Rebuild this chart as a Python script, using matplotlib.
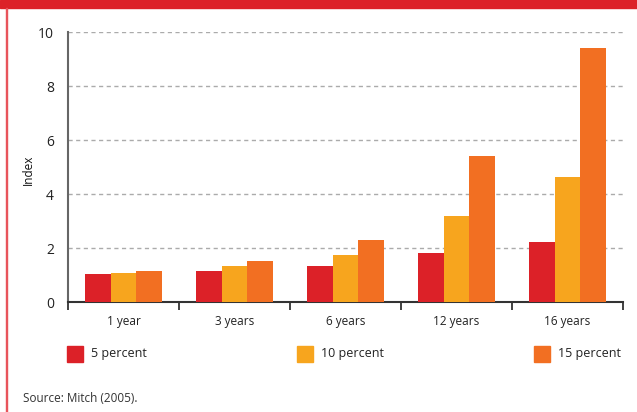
import matplotlib.pyplot as plt
import numpy as np
from matplotlib.patches import Rectangle

categories = ["1 year", "3 years", "6 years", "12 years", "16 years"]
series_names = ["5 percent", "10 percent", "15 percent"]
pct5 = [1.04, 1.16, 1.34, 1.80, 2.21]
pct10 = [1.09, 1.34, 1.75, 3.18, 4.62]
pct15 = [1.16, 1.53, 2.31, 5.42, 9.42]
yticks = [0, 2, 4, 6, 8, 10]

colors = ["#DC2128", "#F7A51E", "#F26F22"]
W, H = 637, 412

plt.rcParams['font.family'] = ['Open Sans', 'DejaVu Sans']
fig = plt.figure(figsize=(W / 100, H / 100), dpi=100)

# frame: red band on top, thin red line on the left
fig.patches.append(Rectangle((0, 1 - 8 / H), 1, 8 / H, transform=fig.transFigure,
                             color="#DC2128", zorder=0))
fig.patches.append(Rectangle((5.5 / W, 0), 1.5 / W, 1 - 8 / H, transform=fig.transFigure,
                             color="#E8545B", zorder=0))

ax = fig.add_axes([68 / W, 1 - 302 / H, (623 - 68) / W, (302 - 32) / H])

x = np.arange(len(categories))
bw = 0.232
for i, vals in enumerate([pct5, pct10, pct15]):
    ax.bar(x + (i - 1) * bw, vals, width=bw, color=colors[i], zorder=3)

ax.set_xlim(-0.5, len(categories) - 0.5)
ax.set_ylim(0, 10)
ax.set_yticks(yticks)
ax.set_yticklabels([str(t) for t in yticks], fontsize=10, color="#222222")
ax.tick_params(axis="y", length=0, pad=10)
ax.yaxis.grid(True, linestyle=(0, (3, 2.5)), color="#ABABAB", linewidth=1.0, zorder=0)
ax.set_axisbelow(True)

# category labels centered, boundary ticks pointing down
ax.set_xticks(x)
ax.set_xticklabels(categories, fontsize=8.5, color="#222222")
ax.tick_params(axis="x", length=0, pad=9)
ax.set_xticks(np.arange(-0.5, len(categories)), minor=True)
ax.tick_params(axis="x", which="minor", length=6, width=1.3, color="#333333")

for s in ["top", "right"]:
    ax.spines[s].set_visible(False)
ax.spines["left"].set_color("#666666")
ax.spines["left"].set_linewidth(1.5)
ax.spines["bottom"].set_color("#333333")
ax.spines["bottom"].set_linewidth(1.5)

fig.text(28 / W, 1 - 170 / H, "Index", rotation=90, ha="center", va="center",
         fontsize=8.5, color="#111111")

# legend
leg_x = [67, 297, 534]
for i, name in enumerate(series_names):
    fig.patches.append(Rectangle((leg_x[i] / W, 1 - 362 / H), 16 / W, 16 / H,
                                 transform=fig.transFigure, color=colors[i]))
    fig.text((leg_x[i] + 24) / W, 1 - 354 / H, name, ha="left", va="center",
             fontsize=9, color="#222222")

fig.text(23 / W, 1 - 398 / H, "Source: Mitch (2005).", ha="left", va="center",
         fontsize=8.5, color="#333333")

fig.savefig("out.png", dpi=100)
